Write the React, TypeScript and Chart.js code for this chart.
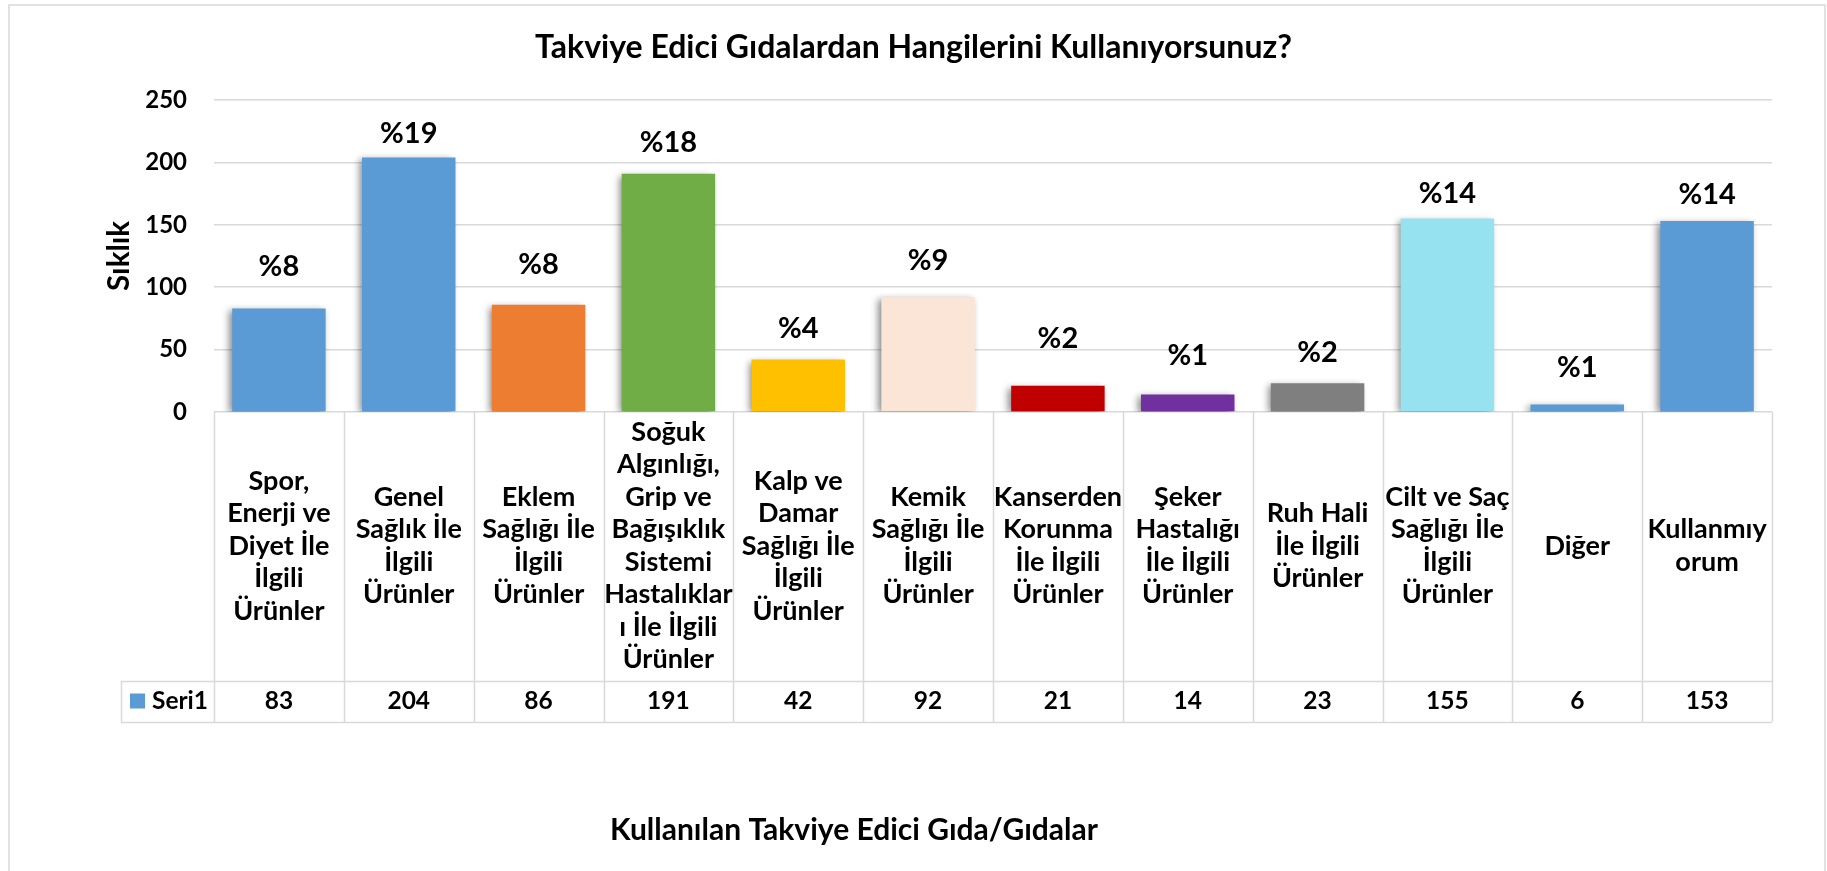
import React, { useEffect, useRef } from 'react';
import { Chart, registerables } from 'chart.js';

Chart.register(...registerables);

// ---------- data ----------
const categories: string[][] = [
  ['Spor,', 'Enerji ve', 'Diyet İle', 'İlgili', 'Ürünler'],
  ['Genel', 'Sağlık İle', 'İlgili', 'Ürünler'],
  ['Eklem', 'Sağlığı İle', 'İlgili', 'Ürünler'],
  ['Soğuk', 'Algınlığı,', 'Grip ve', 'Bağışıklık', 'Sistemi', 'Hastalıklar', 'ı İle İlgili', 'Ürünler'],
  ['Kalp ve', 'Damar', 'Sağlığı İle', 'İlgili', 'Ürünler'],
  ['Kemik', 'Sağlığı İle', 'İlgili', 'Ürünler'],
  ['Kanserden', 'Korunma', 'İle İlgili', 'Ürünler'],
  ['Şeker', 'Hastalığı', 'İle İlgili', 'Ürünler'],
  ['Ruh Hali', 'İle İlgili', 'Ürünler'],
  ['Cilt ve Saç', 'Sağlığı İle', 'İlgili', 'Ürünler'],
  ['Diğer'],
  ['Kullanmıy', 'orum'],
];
const values: number[] = [83, 204, 86, 191, 42, 92, 21, 14, 23, 155, 6, 153];
const percentLabels: string[] = ['%8', '%19', '%8', '%18', '%4', '%9', '%2', '%1', '%2', '%14', '%1', '%14'];
const yTicks: number[] = [0, 50, 100, 150, 200, 250];
const seriesName = 'Seri1';
const chartTitle = 'Takviye Edici Gıdalardan Hangilerini Kullanıyorsunuz?';
const yAxisTitle = 'Sıklık';
const xAxisTitle = 'Kullanılan Takviye Edici Gıda/Gıdalar';

// ---------- styles ----------
const barColors = [
  '#5B9BD5', '#5B9BD5', '#ED7D31', '#70AD47', '#FFC000', '#FBE5D6',
  '#C00000', '#7030A0', '#7F7F7F', '#97E2F0', '#5B9BD5', '#5B9BD5',
];
const labelLift = [42, 24, 40, 31, 31, 37, 47, 39, 31, 25, 37, 26];
const FONT = "Lato, 'Noto Sans', sans-serif";
const GRID = '#d9d9d9';

const decorPlugin = {
  id: 'decor',
  beforeDraw(chart: any) {
    const { ctx, width, height } = chart;
    ctx.save();
    ctx.fillStyle = '#ffffff';
    ctx.fillRect(0, 0, width, height);
    ctx.strokeStyle = GRID;
    ctx.lineWidth = 1.5;
    ctx.strokeRect(9, 5, width - 11, height + 20);
    ctx.restore();
  },
  beforeDatasetsDraw(chart: any) {
    const ctx = chart.ctx;
    ctx.save();
    ctx.shadowColor = 'rgba(0,0,0,0.45)';
    ctx.shadowBlur = 7;
    ctx.shadowOffsetX = -3;
    ctx.shadowOffsetY = 2;
  },
  afterDatasetsDraw(chart: any) {
    chart.ctx.restore();
  },
  afterDraw(chart: any) {
    const { ctx, chartArea } = chart;
    const xs = chart.scales.x;
    const n = values.length;
    const cw = (xs.right - xs.left) / n;
    const base = chartArea.bottom;
    const labelMid = base + 134;
    const rowTop = base + 269;
    const rowBottom = base + 310;
    const legendLeft = 121;

    // percent labels above bars
    const meta = chart.getDatasetMeta(0);
    ctx.save();
    ctx.fillStyle = '#000';
    ctx.font = `bold 29px ${FONT}`;
    ctx.textAlign = 'center';
    ctx.textBaseline = 'middle';
    meta.data.forEach((el: any, i: number) => {
      ctx.fillText(percentLabels[i], el.x, el.y - labelLift[i]);
    });
    ctx.restore();

    // table lines
    ctx.save();
    ctx.strokeStyle = GRID;
    ctx.lineWidth = 1.5;
    ctx.beginPath();
    for (let i = 0; i <= n; i++) {
      const px = Math.round(xs.left + i * cw) + 0.5;
      ctx.moveTo(px, base);
      ctx.lineTo(px, rowBottom);
    }
    ctx.moveTo(legendLeft + 0.5, rowTop);
    ctx.lineTo(legendLeft + 0.5, rowBottom);
    ctx.moveTo(legendLeft, rowTop + 0.5);
    ctx.lineTo(xs.right, rowTop + 0.5);
    ctx.moveTo(legendLeft, rowBottom + 0.5);
    ctx.lineTo(xs.right, rowBottom + 0.5);
    ctx.stroke();
    ctx.restore();

    // category labels
    ctx.save();
    ctx.fillStyle = '#000';
    ctx.textAlign = 'center';
    ctx.textBaseline = 'middle';
    ctx.font = `bold 27px ${FONT}`;
    const lh = 32.5;
    categories.forEach((lines, i) => {
      const cx = xs.getPixelForValue(i);
      const start = labelMid - ((lines.length - 1) * lh) / 2;
      lines.forEach((t, j) => ctx.fillText(t, cx, start + j * lh));
    });

    // values row
    const rowMid = (rowTop + rowBottom) / 2;
    ctx.font = `bold 24.5px ${FONT}`;
    values.forEach((v, i) => {
      ctx.fillText(String(v), xs.getPixelForValue(i), rowMid);
    });
    // legend cell
    ctx.fillStyle = barColors[0];
    ctx.fillRect(legendLeft + 9, rowMid - 8, 15, 15);
    ctx.fillStyle = '#000';
    ctx.textAlign = 'left';
    ctx.fillText(seriesName, legendLeft + 31, rowMid);

    // bottom axis title
    ctx.textAlign = 'center';
    ctx.font = `bold 30px ${FONT}`;
    ctx.fillText(xAxisTitle, 854, base + 418);
    ctx.restore();
  },
};

export default function App() {
  const ref = useRef<HTMLCanvasElement | null>(null);

  useEffect(() => {
    document.body.style.margin = '0';
    document.body.style.overflow = 'hidden';
    let chart: Chart | null = null;
    let cancelled = false;

    const build = () => {
      if (cancelled || !ref.current) return;
      chart = new Chart(ref.current, {
        type: 'bar',
        data: {
          labels: categories.map((c) => c.join(' ')),
          datasets: [
            {
              label: seriesName,
              data: values,
              backgroundColor: barColors,
              borderWidth: 0,
              categoryPercentage: 1,
              barPercentage: 0.72,
            },
          ],
        },
        options: {
          responsive: false,
          animation: false,
          devicePixelRatio: 1,
          layout: { padding: { left: 55, right: 55, top: 0, bottom: 0 } },
          plugins: {
            legend: { display: false },
            tooltip: { enabled: false },
            title: {
              display: true,
              text: chartTitle,
              color: '#000',
              font: { family: FONT, size: 32, weight: 'bold', lineHeight: 1.2 },
              padding: { top: 28, bottom: 33.6 },
            },
          },
          scales: {
            x: {
              grid: { display: false },
              border: { display: false },
              ticks: { display: false },
              afterFit: (s: any) => {
                s.height = 459;
              },
            },
            y: {
              min: 0,
              max: 250,
              afterBuildTicks: (s: any) => {
                s.ticks = yTicks.map((v) => ({ value: v }));
              },
              grid: { color: GRID, lineWidth: 1.5, drawTicks: false },
              border: { display: false },
              ticks: {
                color: '#000',
                padding: 27,
                font: { family: FONT, size: 24, weight: 'bold' },
              },
              title: {
                display: true,
                text: yAxisTitle,
                color: '#000',
                font: { family: FONT, size: 29.5, weight: 'bold', lineHeight: 1.2 },
                padding: { top: 47 },
              },
              afterFit: (s: any) => {
                s.width = 159;
              },
            },
          },
        },
        plugins: [decorPlugin],
      });
    };

    const fonts: any = (document as any).fonts;
    if (fonts && fonts.load) {
      Promise.all([fonts.load(`bold 20px Lato`), fonts.load(`20px Lato`)])
        .catch(() => null)
        .then(build);
    } else {
      build();
    }

    return () => {
      cancelled = true;
      if (chart) chart.destroy();
    };
  }, []);

  return (
    <canvas
      ref={ref}
      width={1827}
      height={871}
      style={{ display: 'block', width: 1827, height: 871 }}
    />
  );
}
